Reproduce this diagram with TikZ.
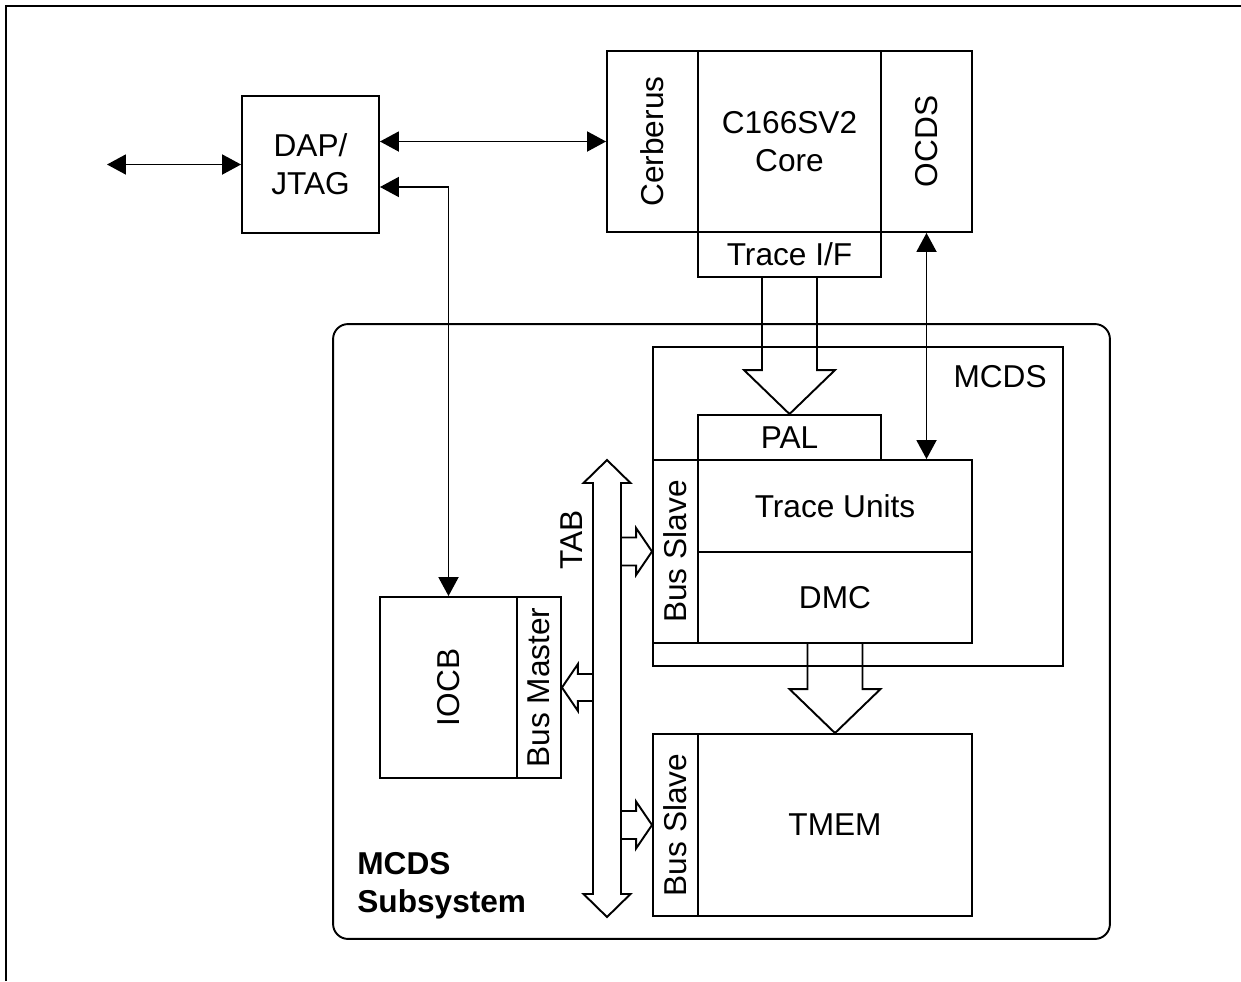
\documentclass[tikz,border=0pt]{standalone}
\usepackage{fontspec}
\setmainfont{Liberation Sans}
\usetikzlibrary{arrows.meta,calc,positioning}

\tikzset{
  box/.style={draw,line width=1.1pt,inner sep=0pt,align=center},
  vtext/.style={rotate=90},
  biarrow/.style={line width=1.1pt,{Triangle[length=3.8mm,width=4mm]}-{Triangle[length=3.8mm,width=4mm]}},
  fat/.style={line width=1.1pt}
}
% hollow bus arrows: tail node, tip node
\newcommand{\fatdown}[2]{\draw[fat] let \p1=(#1), \p2=(#2) in (\x2-0.55cm,\y1) -- (\x2-0.55cm,\y2+0.88cm) -- (\x2-0.91cm,\y2+0.88cm) -- (\p2) -- (\x2+0.91cm,\y2+0.88cm) -- (\x2+0.55cm,\y2+0.88cm) -- (\x2+0.55cm,\y1);}
\newcommand{\fatright}[2]{\draw[fat] let \p1=(#1), \p2=(#2) in (\x1,\y2+0.28cm) -- (\x2-0.32cm,\y2+0.28cm) -- (\x2-0.32cm,\y2+0.47cm) -- (\p2) -- (\x2-0.32cm,\y2-0.47cm) -- (\x2-0.32cm,\y2-0.28cm) -- (\x1,\y2-0.28cm);}
\newcommand{\fatleft}[2]{\draw[fat] let \p1=(#1), \p2=(#2) in (\x1,\y2+0.27cm) -- (\x2+0.32cm,\y2+0.27cm) -- (\x2+0.32cm,\y2+0.47cm) -- (\p2) -- (\x2+0.32cm,\y2-0.47cm) -- (\x2+0.32cm,\y2-0.27cm) -- (\x1,\y2-0.27cm);}

\begin{document}
\begin{tikzpicture}[x=0.02cm,y=-0.02cm, every node/.style={font=\fontsize{18}{21.6}\selectfont}]
  \useasboundingbox (0,0) rectangle (1241,981);
  \draw[line width=0.7pt] (6,981) -- (6,6) -- (1241,6);

  % debug port and core
  \node[box,minimum width=2.74cm,minimum height=2.74cm] (dap) at (310.5,164.5) {DAP/\\JTAG};
  \node[box,minimum width=1.82cm,minimum height=3.62cm,label={[vtext]center:Cerberus}] (cerb) at (652.5,141.5) {};
  \node[box,minimum width=3.66cm,minimum height=3.62cm] (core) at (789.5,141.5) {C166SV2\\Core};
  \node[box,minimum width=1.82cm,minimum height=3.62cm,label={[vtext]center:OCDS}] (ocds) at (926.5,141.5) {};
  \node[box,minimum width=3.66cm,minimum height=0.9cm] (tif) at (789.5,254.5) {Trace I/F};

  % MCDS subsystem
  \node[box,rounded corners=0.3cm,minimum width=15.54cm,minimum height=12.3cm] (sub) at (721.5,631.5) {};
  \node[font=\fontsize{18}{21.6}\selectfont\bfseries,align=left,anchor=north west,inner sep=0pt] (sublbl) at (357,852) {MCDS\\Subsystem};
  \node[box,minimum width=8.2cm,minimum height=6.38cm] (mcds) at (858,506.5) {};
  \node[anchor=east,inner sep=0pt] (mcdslbl) at (1047,377) {MCDS};
  \node[box,minimum width=3.66cm,minimum height=0.9cm] (pal) at (789.5,437.5) {PAL};
  \node[box,minimum width=0.9cm,minimum height=3.66cm,label={[vtext]center:Bus Slave}] (bs1) at (675.5,551.5) {};
  \node[box,minimum width=5.48cm,minimum height=1.84cm] (tu) at (835,506) {Trace Units};
  \node[box,minimum width=5.48cm,minimum height=1.82cm] (dmc) at (835,597.5) {DMC};
  \node[box,minimum width=0.9cm,minimum height=3.64cm,label={[vtext]center:Bus Slave}] (bs2) at (675.5,825) {};
  \node[box,minimum width=5.48cm,minimum height=3.64cm] (tmem) at (835,825) {TMEM};
  \node[box,minimum width=2.74cm,minimum height=3.62cm,label={[vtext]center:IOCB}] (iocb) at (448.5,687.5) {};
  \node[box,minimum width=0.88cm,minimum height=3.62cm,label={[vtext]center:Bus Master}] (bm) at (539,687.5) {};

  % TAB bus
  \coordinate (tabtop) at (607,460);
  \coordinate (tabbot) at (607,917);
  \coordinate (tabR) at (621,460);
  \coordinate (tabL) at (593,460);
  \draw[fat] let \p1=(tabtop), \p2=(tabbot) in (\p1) -- (\x1+0.47cm,\y1-0.46cm) -- (\x1+0.28cm,\y1-0.46cm) -- (\x2+0.28cm,\y2+0.46cm) -- (\x2+0.47cm,\y2+0.46cm) -- (\p2) -- (\x2-0.47cm,\y2+0.46cm) -- (\x2-0.28cm,\y2+0.46cm) -- (\x1-0.28cm,\y1-0.46cm) -- (\x1-0.47cm,\y1-0.46cm) -- cycle;
  \node[vtext] (tablbl) at (572,540) {TAB};
  \fatright{tabR}{bs1.west}
  \fatright{tabR}{bs2.west}
  \fatleft{tabL}{bm.east}

  % trace paths
  \fatdown{tif.south}{pal.north}
  \fatdown{dmc.south}{tmem.north}

  % debug connections
  \coordinate (ext) at (107,164.5);
  \draw[biarrow] (ext) -- (dap.west);
  \draw[biarrow] (dap.east |- cerb.west) -- (cerb.west);
  \draw[biarrow] ([yshift=-0.45cm]dap.east) -| (iocb.north);
  \draw[biarrow] (ocds.south) -- (ocds.south |- tu.north);
\end{tikzpicture}
\end{document}
